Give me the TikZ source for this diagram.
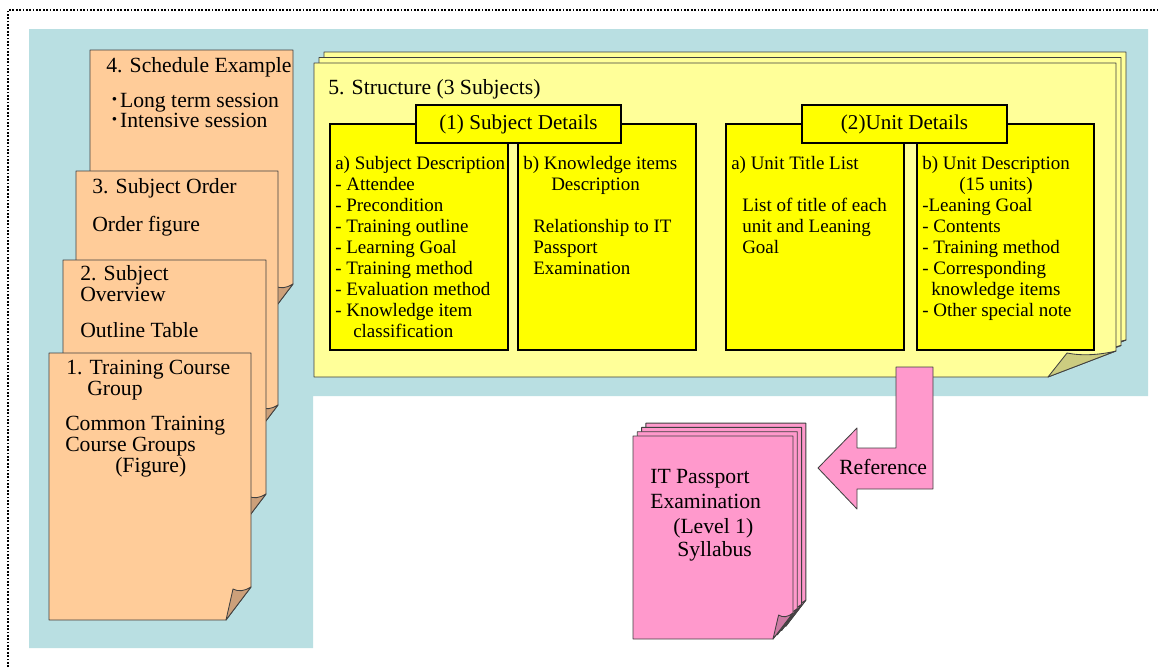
\documentclass[tikz,border=0pt]{standalone}
\usepackage{fontspec}
\setmainfont{Liberation Serif}
\newfontfamily\cjk{Noto Sans CJK JP}

\definecolor{bgblue}{RGB}{185,223,226}
\definecolor{pageorange}{RGB}{255,204,153}
\definecolor{foldorange}{RGB}{204,160,122}
\definecolor{paleyellow}{RGB}{255,255,153}
\definecolor{foldyellow}{RGB}{204,204,128}
\definecolor{boxyellow}{RGB}{255,255,0}
\definecolor{refpink}{RGB}{255,153,204}
\definecolor{foldpink}{RGB}{204,122,163}

% sheet with a turned corner: x1,y1,x2,y2,fold dx,fold dy,fill,flap
\newcommand{\foldsheet}[8]{%
  \draw[sheet, fill=#7] (#1,#2) -- (#3,#2) -- (#3,#4-#6) -- (#3-#5,#4) -- (#1,#4) -- cycle;
  \draw[sheet, fill=#8] (#3-#5,#4) -- (#3-0.72*#5,#4-#6+2)
    .. controls (#3-0.5*#5,#4-#6+5) and (#3-0.25*#5,#4-#6+4) .. (#3,#4-#6) -- cycle;}
\newcommand{\halfdot}{\smash{\cjk ･}}

\begin{document}
\begin{tikzpicture}[x=0.025cm, y=-0.025cm,
    sheet/.style={draw=black!75, line width=0.6pt, line join=round},
    itembox/.style={draw=black, line width=1.3pt, fill=boxyellow},
    big/.style={anchor=base west, inner sep=0pt, font=\fontsize{15.4}{18}\selectfont},
    small/.style={anchor=base west, inner sep=0pt, font=\fontsize{13.5}{16}\selectfont},
    boxtitle/.style={inner sep=0pt, font=\fontsize{15}{18}\selectfont}]
    \useasboundingbox (0,0) rectangle (1158,667);
    \draw[line width=1pt, dash pattern=on 1.2pt off 1.2pt] (8,667) -- (8,10) -- (1158,10);
    \fill[bgblue] (29,29) -- (1148,29) -- (1148,396) -- (313,396) -- (313,648) -- (29,648) -- cycle;

    % left sheets
    \foldsheet{90}{50}{293}{317}{25}{33}{pageorange}{foldorange}
    \node[big] (sched) at (106,72) {4. Schedule Example};
    \node[big] (long) at (109,107) {\halfdot Long term session};
    \node[big] (intens) at (109,127) {\halfdot Intensive session};
    \foldsheet{76}{171}{278}{438}{25}{33}{pageorange}{foldorange}
    \node[big] (order) at (92,193) {3. Subject Order};
    \node[big] (orderfig) at (92,231) {Order figure};
    \foldsheet{63}{260}{266}{527}{25}{33}{pageorange}{foldorange}
    \node[big] (overview) at (80,280) {2. Subject};
    \node[big] (overview2) at (80,301) {Overview};
    \node[big] (outline) at (80,337) {Outline Table};
    \foldsheet{49}{353}{251}{620}{25}{33}{pageorange}{foldorange}
    \node[big] (group) at (66,374) {1. Training Course};
    \node[big] (group2) at (87,395) {Group};
    \node[big] (common) at (65,430) {Common Training};
    \node[big] (common2) at (65,451) {Course Groups};
    \node[big] (figure) at (115,472) {(Figure)};

    % structure sheets
    \foreach \o in {10,5,0}
        \foldsheet{314+\o}{63-1.1*\o}{1116+\o}{377-1.1*\o}{68}{26}{paleyellow}{foldyellow}
    \node[big] (struct) at (328,94) {5. Structure (3 Subjects)};

    \draw[itembox] (330,124) rectangle (508,350);
    \draw[itembox] (518,124) rectangle (696,350);
    \draw[itembox] (726,124) rectangle (904,350);
    \draw[itembox] (917,124) rectangle (1094,350);
    \draw[itembox] (416,105) rectangle (621,143);
    \draw[itembox] (802,105) rectangle (1007,143);
    \node[boxtitle] (subj) at (518.5,124) {(1) Subject Details};
    \node[boxtitle] (unit) at (904.5,124) {(2)Unit Details};

    \foreach \r/\t in {0/a) Subject Description, 1/- Attendee, 2/- Precondition,
        3/- Training outline, 4/- Learning Goal, 5/- Training method,
        6/- Evaluation method, 7/- Knowledge item}
        \node[small] (sd\r) at (335,169+21.1*\r) {\t};
    \node[small] (sd8) at (353,169+21.1*8) {classification};
    \node[small] (kn0) at (523,169) {b) Knowledge items};
    \node[small] (kn1) at (551,169+21.1) {Description};
    \foreach \r/\t in {3/Relationship to IT, 4/Passport, 5/Examination}
        \node[small] (kn\r) at (533,169+21.1*\r) {\t};
    \node[small] (ut0) at (731,169) {a) Unit Title List};
    \foreach \r/\t in {2/List of title of each, 3/unit and Leaning, 4/Goal}
        \node[small] (ut\r) at (742,169+21.1*\r) {\t};
    \foreach \r/\t in {0/b) Unit Description, 2/-Leaning Goal, 3/- Contents,
        4/- Training method, 5/- Corresponding, 7/- Other special note}
        \node[small] (ud\r) at (922,169+21.1*\r) {\t};
    \node[small] (ud1) at (959,169+21.1) {(15 units)};
    \node[small] (ud6) at (931,169+21.1*6) {knowledge items};

    % reference arrow
    \draw[sheet, fill=refpink] (896,367) -- (933,367) -- (933,489) -- (857,489) -- (857,509)
        -- (818,468) -- (857,428) -- (857,448) -- (896,448) -- cycle;
    \node[big] (ref) at (839,474) {Reference};

    % syllabus sheets
    \foreach \o in {12.9,8.6,4.3,0}
        \foldsheet{633+\o}{436-\o}{793+\o}{639-\o}{20}{26}{refpink}{foldpink}
    \node[big] (itp) at (650,483) {IT Passport};
    \node[big] (exam) at (650,508) {Examination};
    \node[big] (level) at (673,533) {(Level 1)};
    \node[big] (syll) at (677,556) {Syllabus};
\end{tikzpicture}
\end{document}
